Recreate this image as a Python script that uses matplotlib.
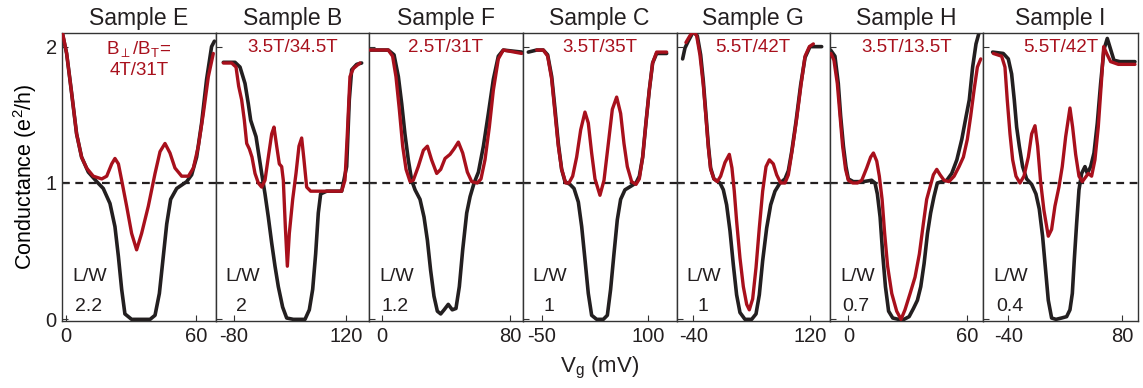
import matplotlib
matplotlib.use("Agg")
import matplotlib.pyplot as plt

plt.rcParams['font.family'] = ['Liberation Sans', 'DejaVu Sans']
plt.rcParams['mathtext.fontset'] = 'custom'
plt.rcParams['mathtext.rm'] = 'Liberation Sans'
plt.rcParams['mathtext.it'] = 'Liberation Sans:italic'

BLACK = '#231f20'
RED = '#a8101c'

# panel info
samples = ['Sample E', 'Sample B', 'Sample F', 'Sample C', 'Sample G', 'Sample H', 'Sample I']
fields = ['4T/31T', '3.5T/34.5T', '2.5T/31T', '3.5T/35T', '5.5T/42T', '3.5T/13.5T', '5.5T/42T']
lw_ratio = ['2.2', '2', '1.2', '1', '1', '0.7', '0.4']
xticks = [(0, 60), (-80, 120), (0, 80), (-50, 100), (-40, 120), (0, 60), (-40, 80)]
xlims = [(-1.7, 69.1), (-112.6, 160.4), (-8.1, 87.7), (-76.7, 139.7),
         (-63.0, 147.4), (-9.3, 68.4), (-66.3, 96.0)]

# Sample E
e_black_v = [-1.7, 0.3, 2.6, 4.9, 7.2, 10.3, 14.2, 17.2, 20.3, 22.6, 24.2, 25.7, 27.2, 30.3, 38.8,
             41.1, 43.1, 44.9, 46.5, 48.3, 51.1, 55.7, 58.0, 60.3, 62.6, 64.9, 67.2, 68.5]
e_black_g = [2.10, 1.95, 1.66, 1.36, 1.19, 1.08, 1.01, 0.96, 0.85, 0.68, 0.46, 0.22, 0.04, 0.0, 0.0,
             0.03, 0.19, 0.46, 0.70, 0.88, 0.96, 1.01, 1.06, 1.19, 1.44, 1.76, 2.0, 2.04]
e_red_v = [-1.7, 0.3, 2.6, 4.9, 7.2, 9.5, 12.6, 16.5, 18.8, 21.1, 22.6, 24.2, 25.7, 28.0, 30.3,
           32.6, 34.9, 38.0, 41.1, 43.4, 45.7, 48.0, 50.3, 53.4, 56.5, 58.8, 61.1, 63.4, 65.7, 68.0]
e_red_g = [2.11, 1.95, 1.66, 1.36, 1.19, 1.11, 1.05, 1.03, 1.05, 1.14, 1.18, 1.14, 1.02, 0.83, 0.63,
           0.51, 0.63, 0.83, 1.07, 1.23, 1.29, 1.22, 1.11, 1.05, 1.05, 1.11, 1.27, 1.51, 1.78, 1.95]

# Sample B
b_black_v = [-99.0, -78.2, -69.3, -60.4, -54.5, -50.3, -45.6, -40.8, -36.7, -30.7, -24.8, -18.9,
             -12.9, -7.0, -1.1, 6.6, 13.8, 25.6, 46.4, 54.1, 60.1, 65.4, 70.1, 74.3, 85.0, 111.7,
             120.6, 125.3, 129.5, 138.4, 147.3]
b_black_g = [1.885, 1.885, 1.85, 1.73, 1.58, 1.46, 1.40, 1.34, 1.23, 1.07, 0.92, 0.75,
             0.56, 0.39, 0.24, 0.09, 0.01, 0.0, 0.0, 0.07, 0.22, 0.48, 0.78, 0.92, 0.94, 0.94,
             1.12, 1.61, 1.83, 1.87, 1.88]
b_red_v = [-99.0, -84.2, -76.4, -71.7, -66.4, -61.6, -57.4, -52.7, -48.0, -42.6, -36.7, -30.7,
           -24.8, -18.9, -12.9, -8.8, -4.0, 0.7, 4.9, 7.8, 11.4, 15.0, 18.5, 24.5, 30.4, 35.7,
           40.5, 44.6, 49.4, 56.5, 111.7, 117.6, 121.8, 126.5, 132.5, 144.3]
b_red_g = [1.88, 1.88, 1.85, 1.71, 1.61, 1.46, 1.29, 1.25, 1.19, 1.07, 1.0, 0.97,
           1.02, 1.19, 1.36, 1.41, 1.27, 1.14, 1.12, 1.02, 0.68, 0.39, 0.63, 0.88, 1.07, 1.27,
           1.33, 1.17, 0.97, 0.94, 0.94, 1.02, 1.36, 1.78, 1.84, 1.88]

# Sample F
f_black_v = [-7.5, 3.9, 7.5, 10.2, 12.3, 14.3, 16.4, 18.5, 20.6, 23.7, 26.2, 28.3, 30.3, 32.4, 34.5,
             36.6, 38.7, 41.3, 43.8, 46.1, 48.2, 50.3, 52.8, 54.9, 57.4, 60.1, 63.2, 66.3, 69.4,
             72.5, 75.6, 87.1]
f_black_g = [1.975, 1.975, 1.94, 1.78, 1.58, 1.36, 1.17, 1.02, 0.95, 0.88, 0.75, 0.58, 0.36, 0.17, 0.06,
             0.04, 0.07, 0.11, 0.07, 0.08, 0.24, 0.51, 0.78, 0.90, 1.0, 1.08, 1.27, 1.51, 1.76,
             1.93, 1.975, 1.96]
f_red_v = [-7.5, 3.9, 6.6, 8.7, 10.8, 12.9, 15.0, 17.5, 19.5, 22.6, 25.8, 28.3, 30.9, 34.1, 36.6,
           39.3, 42.4, 44.9, 47.6, 50.3, 53.2, 55.9, 59.4, 61.7, 64.2, 66.9, 69.4, 72.5, 75.6, 87.1]
f_red_g = [1.975, 1.975, 1.93, 1.78, 1.54, 1.27, 1.10, 1.01, 1.02, 1.12, 1.24, 1.27, 1.17, 1.07, 1.10,
           1.18, 1.21, 1.25, 1.30, 1.22, 1.08, 1.01, 1.0, 1.03, 1.17, 1.41, 1.68, 1.91, 1.975, 1.95]

# Sample C
c_black_v = [-68.8, -57.0, -47.7, -41.6, -35.9, -31.2, -26.6, -21.9, -17.2, -10.2, -4.5, 1.6, 6.3,
             10.9, 15.6, 20.3, 27.4, 36.7, 42.4, 47.0, 51.7, 56.4, 61.1, 67.2, 76.6, 82.7, 87.4,
             92.1, 96.7, 101.4, 106.1, 111.7, 125.8]
c_black_g = [1.96, 1.975, 1.975, 1.94, 1.78, 1.54, 1.29, 1.10, 1.01, 0.99, 0.96, 0.86, 0.68,
             0.44, 0.19, 0.03, 0.0, 0.0, 0.03, 0.22, 0.48, 0.73, 0.88, 0.95, 0.98, 1.0, 1.05,
             1.19, 1.44, 1.68, 1.88, 1.95, 1.95]
c_red_v = [-57.0, -47.7, -41.6, -35.9, -31.2, -26.6, -21.9, -16.2, -11.6, -6.4, -0.8, 4.9, 10.9,
           15.6, 20.3, 25.0, 32.0, 37.7, 43.8, 49.4, 55.5, 61.1, 65.8, 70.5, 76.6, 82.7, 87.4,
           92.1, 96.7, 101.4, 106.1, 111.7, 125.8]
c_red_g = [1.975, 1.975, 1.93, 1.76, 1.51, 1.27, 1.10, 1.0, 1.0, 1.05, 1.19, 1.39, 1.52,
           1.44, 1.22, 1.03, 0.91, 1.02, 1.29, 1.54, 1.63, 1.51, 1.29, 1.12, 1.01, 0.99, 1.03,
           1.19, 1.44, 1.68, 1.88, 1.96, 1.96]

# Sample G
g_black_v = [-54.6, -51.4, -46.9, -40.0, -34.5, -29.9, -26.3, -22.6, -19.4, -16.2, -11.7, -3.4, 1.2,
             5.7, 10.3, 14.9, 19.4, 24.0, 30.9, 40.0, 46.0, 50.5, 55.1, 60.6, 66.1, 72.0, 78.9,
             85.7, 90.3, 94.9, 100.8, 107.2, 113.2, 120.0, 136.0]
g_black_g = [1.91, 1.99, 2.04, 2.11, 2.08, 1.94, 1.75, 1.50, 1.28, 1.11, 1.03, 1.0, 0.95,
             0.84, 0.65, 0.40, 0.18, 0.05, 0.0, 0.0, 0.04, 0.18, 0.43, 0.67, 0.84, 0.94, 1.0,
             1.03, 1.09, 1.23, 1.45, 1.72, 1.92, 2.0, 2.0]
g_red_v = [-50.1, -44.6, -40.0, -35.4, -30.9, -26.3, -22.6, -19.4, -16.2, -11.7, -7.1, -2.5, 3.4,
           9.4, 13.0, 16.2, 19.4, 24.0, 28.6, 33.2, 36.8, 41.4, 46.0, 50.5, 55.1, 59.7, 64.3,
           69.7, 74.3, 79.8, 85.7, 90.3, 95.8, 101.7, 107.7, 113.2, 119.1, 124.6]
g_red_g = [2.03, 2.08, 2.11, 2.08, 1.94, 1.72, 1.48, 1.26, 1.10, 1.03, 1.01, 1.05, 1.15,
           1.21, 1.11, 0.94, 0.72, 0.45, 0.24, 0.11, 0.07, 0.15, 0.38, 0.67, 0.94, 1.12, 1.17,
           1.14, 1.06, 1.0, 1.0, 1.06, 1.25, 1.47, 1.72, 1.93, 2.0, 2.02]

# Sample H
h_black_v = [-9.0, -6.8, -5.1, -3.9, -2.5, -1.2, 0.0, 2.5, 7.6, 11.8, 13.5, 14.7, 16.1, 17.4, 18.8,
             20.4, 22.5, 25.4, 28.2, 30.8, 33.0, 35.0, 36.7, 38.4, 40.1, 41.7, 43.4, 45.1, 47.3,
             49.9, 52.4, 55.0, 57.5, 59.7, 61.3, 63.0, 64.7, 66.4]
h_black_g = [1.975, 1.93, 1.73, 1.49, 1.27, 1.12, 1.03, 1.01, 1.01, 1.02, 1.0, 0.92, 0.75, 0.48, 0.24,
             0.06, 0.01, 0.0, 0.0, 0.02, 0.08, 0.14, 0.24, 0.41, 0.63, 0.78, 0.90, 1.0, 1.01,
             1.02, 1.07, 1.17, 1.32, 1.49, 1.61, 1.85, 2.02, 2.11]
h_red_v = [-8.8, -7.3, -5.6, -4.2, -2.9, -1.4, 0.0, 2.2, 4.6, 6.8, 9.3, 11.3, 12.7, 14.4, 15.7,
           17.1, 18.4, 19.9, 22.0, 24.5, 26.7, 28.7, 31.3, 33.8, 36.0, 38.0, 39.7, 41.4, 43.1,
           44.8, 46.5, 48.5, 51.0, 53.6, 56.1, 58.3, 60.3, 62.0, 63.7, 65.4, 67.1]
h_red_g = [1.95, 1.90, 1.73, 1.49, 1.27, 1.10, 1.02, 1.0, 1.0, 1.02, 1.11, 1.19, 1.22, 1.16, 1.05,
           0.88, 0.63, 0.39, 0.19, 0.06, 0.0, 0.07, 0.19, 0.31, 0.48, 0.70, 0.88, 0.97, 1.06,
           1.10, 1.06, 1.02, 1.01, 1.05, 1.12, 1.19, 1.32, 1.49, 1.68, 1.85, 1.91]

# Sample I
i_black_v = [-56.5, -45.3, -40.0, -36.5, -33.7, -31.2, -28.4, -24.9, -20.7, -15.4, -10.9, -7.4, -3.9,
             -1.1, 2.1, 5.6, 10.2, 16.1, 21.4, 24.9, 27.4, 29.5, 31.9, 34.4, 37.2, 40.7, 43.2,
             46.7, 50.2, 53.7, 57.2, 60.7, 64.2, 67.7, 71.2, 77.5, 93.3]
i_black_g = [1.96, 1.95, 1.91, 1.80, 1.61, 1.41, 1.27, 1.12, 1.03, 0.99, 0.92, 0.81, 0.61,
             0.39, 0.14, 0.01, 0.0, 0.01, 0.02, 0.07, 0.19, 0.44, 0.70, 0.95, 1.07, 1.12, 1.07,
             1.12, 1.22, 1.44, 1.73, 1.98, 2.06, 1.98, 1.90, 1.89, 1.89]
i_red_v = [-55.8, -47.0, -43.5, -41.1, -38.2, -35.4, -31.9, -27.7, -23.5, -18.9, -15.4, -11.9, -9.1,
           -6.0, -2.5, 2.1, 5.6, 9.1, 13.3, 16.8, 20.4, 24.9, 27.7, 30.9, 34.4, 37.9, 44.2, 47.7,
           51.2, 54.7, 58.2, 60.4, 63.5, 67.7, 75.8, 93.3]
i_red_g = [1.95, 1.93, 1.85, 1.61, 1.36, 1.17, 1.05, 1.0, 1.05, 1.19, 1.36, 1.42, 1.27,
           1.01, 0.80, 0.61, 0.66, 0.83, 0.97, 1.12, 1.34, 1.55, 1.41, 1.21, 1.05, 1.01, 1.07, 1.05,
           1.17, 1.41, 1.76, 2.0, 1.95, 1.89, 1.87, 1.87]

curves = [
    (e_black_v, e_black_g, e_red_v, e_red_g),
    (b_black_v, b_black_g, b_red_v, b_red_g),
    (f_black_v, f_black_g, f_red_v, f_red_g),
    (c_black_v, c_black_g, c_red_v, c_red_g),
    (g_black_v, g_black_g, g_red_v, g_red_g),
    (h_black_v, h_black_g, h_red_v, h_red_g),
    (i_black_v, i_black_g, i_red_v, i_red_g),
]

W, H = 1143, 388
fig = plt.figure(figsize=(W / 100, H / 100), dpi=100)

# panel edges in pixels
edges = [62.3, 215.7, 369.0, 522.7, 676.5, 830.0, 983.3, 1137.5]
top_px, bot_px = 33, 321

axes = []
for i in range(7):
    x0 = edges[i] / W
    w = (edges[i + 1] - edges[i]) / W
    ax = fig.add_axes([x0, 1 - bot_px / H, w, (bot_px - top_px) / H])
    axes.append(ax)

    bv, bg, rv, rg = curves[i]
    ax.axhline(1, color=BLACK, lw=1.6, ls=(0, (3.5, 2.5)), zorder=1)
    ax.plot(bv, bg, color=BLACK, lw=2.6, solid_joinstyle='round', solid_capstyle='round', zorder=2)
    ax.plot(rv, rg, color=RED, lw=2.4, solid_joinstyle='round', solid_capstyle='round', zorder=3)

    ax.set_xlim(*xlims[i])
    ax.set_ylim(-0.012, 2.10)
    ax.set_xticks(xticks[i])
    ax.set_xticklabels([str(t) for t in xticks[i]], fontsize=14.5)
    ax.set_yticks([0, 1, 2])
    if i == 0:
        ax.set_yticklabels(['0', '1', '2'], fontsize=14.5)
        ax.set_ylabel('Conductance (e$^2$/h)', fontsize=15.5, labelpad=5)
    else:
        ax.set_yticklabels([])
    ax.tick_params(direction='in', length=4, width=0.8, pad=4, colors='#333333',
                   labelcolor=BLACK)
    for s in ax.spines.values():
        s.set_linewidth(1.0)
        s.set_color('#333333')

    ax.set_title(samples[i], fontsize=16.5, pad=6, color=BLACK)

    if i == 0:
        ax.text(0.5, 0.945, r'B$_\perp$/B$_\mathrm{T}$=', transform=ax.transAxes,
                ha='center', va='center', fontsize=13.5, color=RED)
        ax.text(0.5, 0.87, fields[i], transform=ax.transAxes,
                ha='center', va='center', fontsize=13.5, color=RED)
    else:
        ax.text(0.5, 0.948, fields[i], transform=ax.transAxes,
                ha='center', va='center', fontsize=13.5, color=RED)

    ax.text(0.065, 0.153, 'L/W', transform=ax.transAxes, ha='left', va='center',
            fontsize=14, color=BLACK)
    ax.text(0.17, 0.052, lw_ratio[i], transform=ax.transAxes, ha='center', va='center',
            fontsize=14, color=BLACK)

fig.text(600 / W, 1 - 368 / H, r'V$_\mathrm{g}$ (mV)', ha='center', va='center',
         fontsize=16, color=BLACK)

fig.savefig('out.png', dpi=100)
